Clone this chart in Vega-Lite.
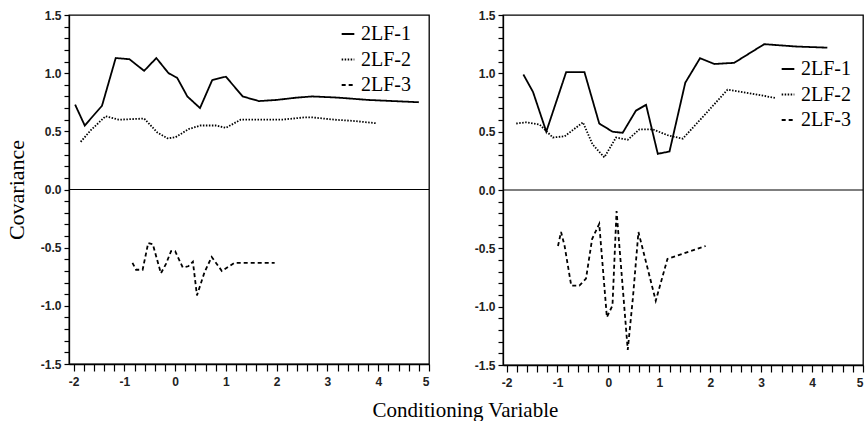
{
  "$schema": "https://vega.github.io/schema/vega-lite/v6.json",
  "autosize": {"type": "pad"},
  "padding": {"left": 4, "top": 8, "right": 0, "bottom": 0},
  "background": "white",
  "config": {
    "view": {"stroke": "black", "strokeWidth": 1.3},
    "axis": {"labelFont": "Liberation Sans", "labelFontWeight": "bold", "labelFontSize": 12, "labelColor": "#222", "domainColor": "black", "tickColor": "black", "tickWidth": 1.2, "grid": false, "labelOverlap": false, "labelBound": false, "titleFont": "Liberation Serif", "titleFontWeight": "normal", "titleFontSize": 22, "titleColor": "black"},
    "legend": {"labelFont": "Liberation Serif", "labelFontSize": 20, "labelColor": "black"}
  },
  "title": {"text": "Conditioning Variable", "orient": "bottom", "anchor": "middle", "font": "Liberation Serif", "fontSize": 21, "fontWeight": "normal", "color": "black", "dx": 31, "offset": 11},
  "datasets": {
    "left": [
      {"cond": -1.97, "cov": 0.73, "series": "2LF-1"}, {"cond": -1.78, "cov": 0.55, "series": "2LF-1"}, {"cond": -1.44, "cov": 0.72, "series": "2LF-1"}, {"cond": -1.17, "cov": 1.13, "series": "2LF-1"}, {"cond": -0.90, "cov": 1.12, "series": "2LF-1"}, {"cond": -0.61, "cov": 1.02, "series": "2LF-1"}, {"cond": -0.37, "cov": 1.13, "series": "2LF-1"}, {"cond": -0.13, "cov": 1.00, "series": "2LF-1"}, {"cond": 0.04, "cov": 0.96, "series": "2LF-1"}, {"cond": 0.24, "cov": 0.80, "series": "2LF-1"}, {"cond": 0.49, "cov": 0.70, "series": "2LF-1"}, {"cond": 0.73, "cov": 0.94, "series": "2LF-1"}, {"cond": 1.00, "cov": 0.97, "series": "2LF-1"}, {"cond": 1.33, "cov": 0.80, "series": "2LF-1"}, {"cond": 1.65, "cov": 0.76, "series": "2LF-1"}, {"cond": 2.0, "cov": 0.77, "series": "2LF-1"}, {"cond": 2.4, "cov": 0.79, "series": "2LF-1"}, {"cond": 2.7, "cov": 0.80, "series": "2LF-1"}, {"cond": 3.2, "cov": 0.79, "series": "2LF-1"}, {"cond": 3.8, "cov": 0.77, "series": "2LF-1"}, {"cond": 4.8, "cov": 0.75, "series": "2LF-1"},
      {"cond": -1.86, "cov": 0.41, "series": "2LF-2"}, {"cond": -1.66, "cov": 0.51, "series": "2LF-2"}, {"cond": -1.37, "cov": 0.63, "series": "2LF-2"}, {"cond": -1.11, "cov": 0.60, "series": "2LF-2"}, {"cond": -0.61, "cov": 0.61, "series": "2LF-2"}, {"cond": -0.35, "cov": 0.49, "series": "2LF-2"}, {"cond": -0.15, "cov": 0.44, "series": "2LF-2"}, {"cond": 0.01, "cov": 0.45, "series": "2LF-2"}, {"cond": 0.27, "cov": 0.52, "series": "2LF-2"}, {"cond": 0.50, "cov": 0.55, "series": "2LF-2"}, {"cond": 0.80, "cov": 0.55, "series": "2LF-2"}, {"cond": 1.00, "cov": 0.53, "series": "2LF-2"}, {"cond": 1.29, "cov": 0.60, "series": "2LF-2"}, {"cond": 1.65, "cov": 0.60, "series": "2LF-2"}, {"cond": 2.1, "cov": 0.60, "series": "2LF-2"}, {"cond": 2.55, "cov": 0.62, "series": "2LF-2"}, {"cond": 2.7, "cov": 0.62, "series": "2LF-2"}, {"cond": 3.14, "cov": 0.60, "series": "2LF-2"}, {"cond": 3.5, "cov": 0.59, "series": "2LF-2"}, {"cond": 3.95, "cov": 0.57, "series": "2LF-2"},
      {"cond": -0.84, "cov": -0.63, "series": "2LF-3"}, {"cond": -0.77, "cov": -0.69, "series": "2LF-3"}, {"cond": -0.64, "cov": -0.69, "series": "2LF-3"}, {"cond": -0.53, "cov": -0.46, "series": "2LF-3"}, {"cond": -0.44, "cov": -0.47, "series": "2LF-3"}, {"cond": -0.28, "cov": -0.72, "series": "2LF-3"}, {"cond": -0.18, "cov": -0.64, "series": "2LF-3"}, {"cond": -0.08, "cov": -0.53, "series": "2LF-3"}, {"cond": 0.0, "cov": -0.53, "series": "2LF-3"}, {"cond": 0.15, "cov": -0.67, "series": "2LF-3"}, {"cond": 0.26, "cov": -0.66, "series": "2LF-3"}, {"cond": 0.35, "cov": -0.62, "series": "2LF-3"}, {"cond": 0.43, "cov": -0.91, "series": "2LF-3"}, {"cond": 0.58, "cov": -0.71, "series": "2LF-3"}, {"cond": 0.72, "cov": -0.58, "series": "2LF-3"}, {"cond": 0.92, "cov": -0.70, "series": "2LF-3"}, {"cond": 1.17, "cov": -0.63, "series": "2LF-3"}, {"cond": 1.96, "cov": -0.63, "series": "2LF-3"}
    ],
    "right": [
      {"cond": -1.67, "cov": 0.99, "series": "2LF-1"}, {"cond": -1.48, "cov": 0.84, "series": "2LF-1"}, {"cond": -1.22, "cov": 0.50, "series": "2LF-1"}, {"cond": -0.83, "cov": 1.01, "series": "2LF-1"}, {"cond": -0.47, "cov": 1.01, "series": "2LF-1"}, {"cond": -0.18, "cov": 0.57, "series": "2LF-1"}, {"cond": 0.08, "cov": 0.50, "series": "2LF-1"}, {"cond": 0.28, "cov": 0.49, "series": "2LF-1"}, {"cond": 0.54, "cov": 0.68, "series": "2LF-1"}, {"cond": 0.74, "cov": 0.73, "series": "2LF-1"}, {"cond": 0.97, "cov": 0.31, "series": "2LF-1"}, {"cond": 1.20, "cov": 0.33, "series": "2LF-1"}, {"cond": 1.51, "cov": 0.92, "series": "2LF-1"}, {"cond": 1.80, "cov": 1.13, "series": "2LF-1"}, {"cond": 2.08, "cov": 1.08, "series": "2LF-1"}, {"cond": 2.47, "cov": 1.09, "series": "2LF-1"}, {"cond": 3.06, "cov": 1.25, "series": "2LF-1"}, {"cond": 3.68, "cov": 1.23, "series": "2LF-1"}, {"cond": 4.30, "cov": 1.22, "series": "2LF-1"},
      {"cond": -1.81, "cov": 0.57, "series": "2LF-2"}, {"cond": -1.62, "cov": 0.58, "series": "2LF-2"}, {"cond": -1.35, "cov": 0.56, "series": "2LF-2"}, {"cond": -1.09, "cov": 0.45, "series": "2LF-2"}, {"cond": -0.86, "cov": 0.46, "series": "2LF-2"}, {"cond": -0.50, "cov": 0.58, "series": "2LF-2"}, {"cond": -0.31, "cov": 0.39, "series": "2LF-2"}, {"cond": -0.08, "cov": 0.28, "series": "2LF-2"}, {"cond": 0.15, "cov": 0.45, "series": "2LF-2"}, {"cond": 0.38, "cov": 0.43, "series": "2LF-2"}, {"cond": 0.61, "cov": 0.52, "series": "2LF-2"}, {"cond": 0.87, "cov": 0.52, "series": "2LF-2"}, {"cond": 1.16, "cov": 0.47, "series": "2LF-2"}, {"cond": 1.46, "cov": 0.44, "series": "2LF-2"}, {"cond": 1.84, "cov": 0.62, "series": "2LF-2"}, {"cond": 2.34, "cov": 0.86, "series": "2LF-2"}, {"cond": 2.76, "cov": 0.83, "series": "2LF-2"}, {"cond": 3.27, "cov": 0.79, "series": "2LF-2"},
      {"cond": -0.99, "cov": -0.48, "series": "2LF-3"}, {"cond": -0.93, "cov": -0.36, "series": "2LF-3"}, {"cond": -0.86, "cov": -0.48, "series": "2LF-3"}, {"cond": -0.73, "cov": -0.82, "series": "2LF-3"}, {"cond": -0.57, "cov": -0.82, "series": "2LF-3"}, {"cond": -0.44, "cov": -0.76, "series": "2LF-3"}, {"cond": -0.32, "cov": -0.42, "series": "2LF-3"}, {"cond": -0.18, "cov": -0.29, "series": "2LF-3"}, {"cond": -0.03, "cov": -1.09, "series": "2LF-3"}, {"cond": 0.08, "cov": -0.99, "series": "2LF-3"}, {"cond": 0.16, "cov": -0.18, "series": "2LF-3"}, {"cond": 0.38, "cov": -1.37, "series": "2LF-3"}, {"cond": 0.48, "cov": -0.93, "series": "2LF-3"}, {"cond": 0.59, "cov": -0.36, "series": "2LF-3"}, {"cond": 0.93, "cov": -0.95, "series": "2LF-3"}, {"cond": 1.16, "cov": -0.59, "series": "2LF-3"}, {"cond": 1.91, "cov": -0.48, "series": "2LF-3"}
    ],
    "zero": [{"ref": 0}]
  },
  "spacing": 42,
  "hconcat": [
    {
      "width": 360, "height": 349,
      "layer": [
        {
          "data": {"name": "zero"},
          "mark": {"type": "rule", "color": "black", "strokeWidth": 1.2},
          "encoding": {"y": {"field": "ref", "type": "quantitative", "scale": {"domain": [-1.5, 1.5], "nice": false}, "axis": null}}
        },
        {
          "data": {"name": "left"},
          "mark": {"type": "line", "color": "black", "strokeWidth": 1.8},
          "encoding": {
            "x": {"field": "cond", "type": "quantitative", "scale": {"domain": [-2.09, 5], "nice": false, "zero": false}, "axis": {"orient": "bottom", "values": [-2,-1.8,-1.6,-1.4,-1.2,-1,-0.8,-0.6,-0.4,-0.2,0,0.2,0.4,0.6,0.8,1,1.2,1.4,1.6,1.8,2,2.2,2.4,2.6,2.8,3,3.2,3.4,3.6,3.8,4,4.2,4.4,4.6,4.8,5], "format": ".0f", "labelExpr": "datum.value % 1 === 0 ? replace(datum.label, '−', '-') : ''", "tickSize": 7, "labelPadding": 5, "domainWidth": 1.3, "title": null, "encode": {"ticks": {"update": {"y2": {"signal": "datum.value % 1 === 0 ? 7 : 4"}}}}}},
            "y": {"field": "cov", "type": "quantitative", "scale": {"domain": [-1.5, 1.5], "nice": false}, "axis": {"orient": "left", "values": [-1.5,-1.4,-1.3,-1.2,-1.1,-1,-0.9,-0.8,-0.7,-0.6,-0.5,-0.4,-0.3,-0.2,-0.1,0,0.1,0.2,0.3,0.4,0.5,0.6,0.7,0.8,0.9,1,1.1,1.2,1.3,1.4,1.5], "format": ".1f", "labelExpr": "indexof([-1.5,-1,-0.5,0,0.5,1,1.5], datum.value) >= 0 ? replace(datum.label, '−', '-') : ''", "tickSize": 5, "labelPadding": 3, "domainWidth": 1.3, "title": "Covariance", "titlePadding": 12, "encode": {"ticks": {"update": {"x2": {"signal": "indexof([-1.5,-1,-0.5,0,0.5,1,1.5], datum.value) >= 0 ? -5 : -3"}}}}}},
            "strokeDash": {"field": "series", "type": "nominal", "scale": {"domain": ["2LF-1","2LF-2","2LF-3"], "range": [[1,0],[1.5,1.5],[4,3]]}, "legend": {"title": null, "orient": "none", "legendX": 269, "legendY": 9, "symbolType": "stroke", "symbolSize": 160, "symbolStrokeColor": "black", "symbolStrokeWidth": 2, "labelOffset": 3, "rowPadding": 5.5, "padding": 0}}
          }
        }
      ],
      "resolve": {"axis": {"y": "independent"}}
    },
    {
      "width": 360, "height": 350,
      "layer": [
        {
          "data": {"name": "zero"},
          "mark": {"type": "rule", "color": "black", "strokeWidth": 1.2},
          "encoding": {"y": {"field": "ref", "type": "quantitative", "scale": {"domain": [-1.5, 1.5], "nice": false}, "axis": null}}
        },
        {
          "data": {"name": "right"},
          "mark": {"type": "line", "color": "black", "strokeWidth": 1.8},
          "encoding": {
            "x": {"field": "cond", "type": "quantitative", "scale": {"domain": [-2.07, 5], "nice": false, "zero": false}, "axis": {"orient": "bottom", "values": [-2,-1.8,-1.6,-1.4,-1.2,-1,-0.8,-0.6,-0.4,-0.2,0,0.2,0.4,0.6,0.8,1,1.2,1.4,1.6,1.8,2,2.2,2.4,2.6,2.8,3,3.2,3.4,3.6,3.8,4,4.2,4.4,4.6,4.8,5], "format": ".0f", "labelExpr": "datum.value % 1 === 0 ? replace(datum.label, '−', '-') : ''", "tickSize": 7, "labelPadding": 5, "domainWidth": 1.3, "title": null, "encode": {"ticks": {"update": {"y2": {"signal": "datum.value % 1 === 0 ? 7 : 4"}}}}}},
            "y": {"field": "cov", "type": "quantitative", "scale": {"domain": [-1.5, 1.5], "nice": false}, "axis": {"orient": "left", "values": [-1.5,-1.4,-1.3,-1.2,-1.1,-1,-0.9,-0.8,-0.7,-0.6,-0.5,-0.4,-0.3,-0.2,-0.1,0,0.1,0.2,0.3,0.4,0.5,0.6,0.7,0.8,0.9,1,1.1,1.2,1.3,1.4,1.5], "format": ".1f", "labelExpr": "indexof([-1.5,-1,-0.5,0,0.5,1,1.5], datum.value) >= 0 ? replace(datum.label, '−', '-') : ''", "tickSize": 5, "labelPadding": 3, "domainWidth": 1.3, "title": null, "encode": {"ticks": {"update": {"x2": {"signal": "indexof([-1.5,-1,-0.5,0,0.5,1,1.5], datum.value) >= 0 ? -5 : -3"}}}}}},
            "strokeDash": {"field": "series", "type": "nominal", "scale": {"domain": ["2LF-1","2LF-2","2LF-3"], "range": [[1,0],[1.5,1.5],[4,3]]}, "legend": {"title": null, "orient": "none", "legendX": 275, "legendY": 44, "symbolType": "stroke", "symbolSize": 160, "symbolStrokeColor": "black", "symbolStrokeWidth": 2, "labelOffset": 3, "rowPadding": 5.5, "padding": 0}}
          }
        }
      ],
      "resolve": {"axis": {"y": "independent"}}
    }
  ],
  "resolve": {"scale": {"strokeDash": "independent"}, "legend": {"strokeDash": "independent"}}
}
